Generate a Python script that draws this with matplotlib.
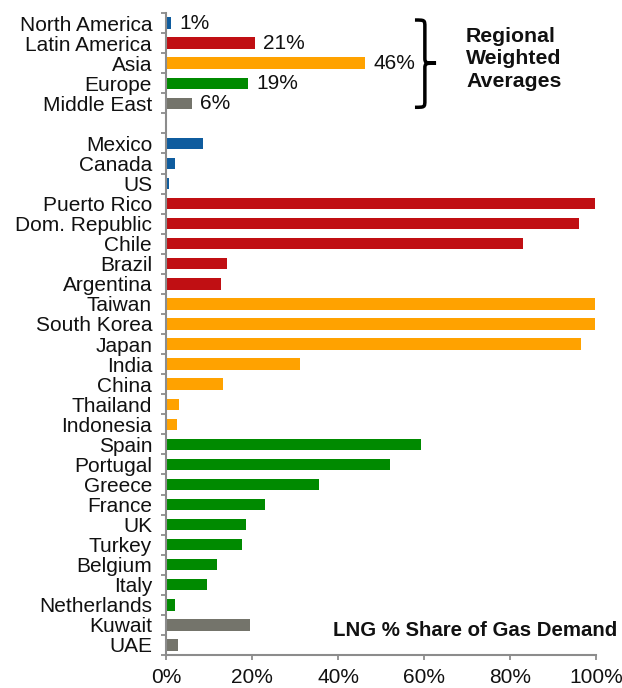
import matplotlib
matplotlib.use("Agg")
import matplotlib.pyplot as plt
from matplotlib.path import Path
from matplotlib.patches import PathPatch
import numpy as np

plt.rcParams['font.family'] = ['Liberation Sans', 'DejaVu Sans']

regions = ["North America", "Latin America", "Asia", "Europe", "Middle East"]
region_values = [1.2, 20.7, 46.3, 19.1, 6.0]
region_labels = ["1%", "21%", "46%", "19%", "6%"]
region_groups = ["NA", "LA", "AS", "EU", "ME"]

countries = ["Mexico", "Canada", "US", "Puerto Rico", "Dom. Republic", "Chile",
             "Brazil", "Argentina", "Taiwan", "South Korea", "Japan", "India",
             "China", "Thailand", "Indonesia", "Spain", "Portugal", "Greece",
             "France", "UK", "Turkey", "Belgium", "Italy", "Netherlands",
             "Kuwait", "UAE"]
country_values = [8.6, 2.0, 0.6, 99.8, 96.0, 83.0,
                  14.1, 12.7, 99.8, 99.8, 96.4, 31.1,
                  13.2, 3.0, 2.5, 59.3, 52.1, 35.6,
                  23.0, 18.6, 17.7, 11.9, 9.6, 2.0,
                  19.5, 2.9]
country_groups = ["NA"] * 3 + ["LA"] * 5 + ["AS"] * 7 + ["EU"] * 9 + ["ME"] * 2

x_ticks = [0, 20, 40, 60, 80, 100]
x_tick_labels = ["0%", "20%", "40%", "60%", "80%", "100%"]

colors = {"NA": "#0F5C9E", "LA": "#C00F13", "AS": "#FFA200",
          "EU": "#008A00", "ME": "#74746B"}

W, H = 622, 688
fig = plt.figure(figsize=(W / 100, H / 100), dpi=100)
ax = fig.add_axes([166 / W, 1 - 655 / H, (596 - 166) / W, (655 - 13) / H])

region_pos = np.arange(len(regions))
country_pos = np.arange(len(countries)) + len(regions) + 1
bh = 0.57

ax.barh(region_pos, region_values, height=bh,
        color=[colors[g] for g in region_groups])
ax.barh(country_pos, country_values, height=bh,
        color=[colors[g] for g in country_groups])

for y, v, lab in zip(region_pos, region_values, region_labels):
    ax.annotate(lab, (v, y), xytext=(6, 0), textcoords="offset points",
                va="center", ha="left", fontsize=15, color="#111111")

n = len(regions) + 1 + len(countries)
ax.set_ylim(n - 0.5, -0.5)
ax.set_xlim(0, 100)

ax.set_yticks(list(region_pos) + list(country_pos))
ax.set_yticklabels(regions + countries, fontsize=15, color="#111111")
ax.set_yticks(np.arange(-0.5, n, 1.0), minor=True)
ax.tick_params(axis="y", which="major", length=0, pad=10)
ax.tick_params(axis="y", which="minor", length=3.5, width=1.3, color="#8c8c8c")

ax.set_xticks(x_ticks)
ax.set_xticklabels(x_tick_labels, fontsize=15, color="#111111")
ax.tick_params(axis="x", length=3.5, width=1.3, color="#8c8c8c", pad=6)

for s in ["top", "right"]:
    ax.spines[s].set_visible(False)
for s in ["left", "bottom"]:
    ax.spines[s].set_color("#8c8c8c")
    ax.spines[s].set_linewidth(1.5)

# curly brace in data coordinates
x0, x1, xm = 57.9, 60.2, 62.8
yt, yb, ym = -0.15, 4.2, 2.0
verts = [
    (x0, yt), (x1, yt), (x1, yt), (x1, yt + 0.35),
    (x1, ym - 0.25),
    (x1, ym), (x1 + 0.3, ym), (xm, ym),
    (x1 + 0.3, ym), (x1, ym), (x1, ym + 0.25),
    (x1, yb - 0.35),
    (x1, yb), (x1, yb), (x0, yb),
]
codes = [Path.MOVETO, Path.CURVE4, Path.CURVE4, Path.CURVE4,
         Path.LINETO,
         Path.CURVE4, Path.CURVE4, Path.CURVE4,
         Path.CURVE4, Path.CURVE4, Path.CURVE4,
         Path.LINETO,
         Path.CURVE4, Path.CURVE4, Path.CURVE4]
ax.add_patch(PathPatch(Path(verts, codes), facecolor="none",
                       edgecolor="black", linewidth=2.5, clip_on=False))

fig.text(466 / W, 1 - 59 / H, "Regional\nWeighted\nAverages", fontsize=15.3,
         fontweight="bold", ha="left", va="center", multialignment="left",
         linespacing=1.22, color="#111111")

fig.text(617 / W, 1 - 631 / H, "LNG % Share of Gas Demand", fontsize=14.7,
         fontweight="bold", ha="right", va="center", color="#111111")

fig.savefig("out.png", dpi=100)
